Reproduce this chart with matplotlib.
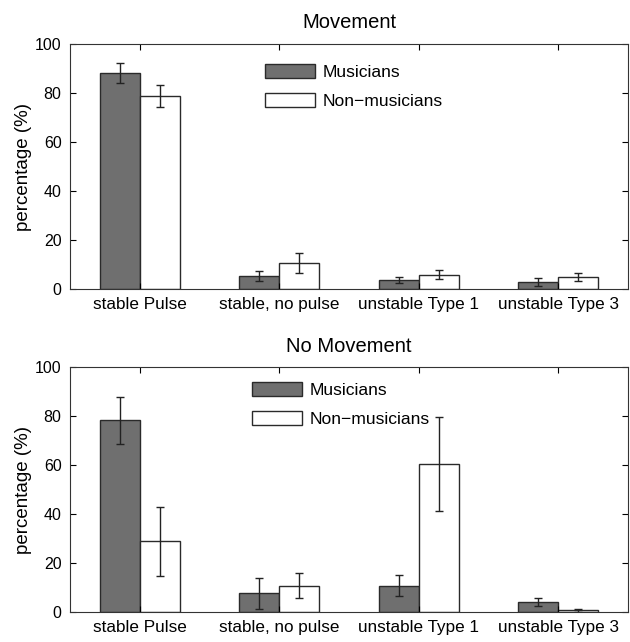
import matplotlib.pyplot as plt
import numpy as np

plt.rcParams.update({
    "font.family": ["Liberation Sans", "DejaVu Sans"],
    "font.size": 12,
    "xtick.direction": "in",
    "ytick.direction": "in",
    "xtick.top": True,
    "ytick.right": True,
})

categories = ["stable Pulse", "stable, no pulse", "unstable Type 1", "unstable Type 3"]
groups = ["Musicians", "Non\u2212musicians"]

# Movement condition
move_mus = [88.3, 5.3, 3.7, 2.9]
move_mus_err = [4.1, 2.1, 1.4, 1.5]
move_non = [78.8, 10.6, 5.9, 4.9]
move_non_err = [4.3, 4.0, 2.0, 1.8]

# No movement condition
nomove_mus = [78.2, 7.6, 10.8, 4.2]
nomove_mus_err = [9.5, 6.3, 4.2, 1.6]
nomove_non = [28.8, 10.8, 60.4, 0.7]
nomove_non_err = [14.0, 5.2, 19.2, 0.6]

x = np.arange(1, len(categories) + 1)
w = 0.287

fig = plt.figure(figsize=(6.3, 6.42), dpi=100)
ax1 = fig.add_axes([0.111, 0.5498, 0.886, 0.3816])
ax2 = fig.add_axes([0.111, 0.0467, 0.886, 0.3816])

panels = [
    (ax1, "Movement", move_mus, move_mus_err, move_non, move_non_err, (0.349, 0.92), 11.5),
    (ax2, "No Movement", nomove_mus, nomove_mus_err, nomove_non, nomove_non_err, (0.326, 0.94), 10.5),
]

for ax, title, mus, mus_err, non, non_err, leg_pos, tpad in panels:
    ax.bar(x - w / 2, mus, w, color="#6f6f6f", edgecolor="#2a2a2a", linewidth=1.0,
           label=groups[0])
    ax.bar(x + w / 2, non, w, color="white", edgecolor="#2a2a2a", linewidth=1.0,
           label=groups[1])
    ax.errorbar(x - w / 2, mus, yerr=mus_err, fmt="none", ecolor="#222222",
                elinewidth=1.0, capsize=3, capthick=1.0)
    ax.errorbar(x + w / 2, non, yerr=non_err, fmt="none", ecolor="#222222",
                elinewidth=1.0, capsize=3, capthick=1.0)
    ax.set_xlim(0.5, 4.5)
    ax.set_ylim(0, 100)
    ax.set_yticks([0, 20, 40, 60, 80, 100])
    ax.set_xticks(x)
    ax.set_xticklabels(categories, fontsize=12.3)
    ax.tick_params(axis="y", labelsize=11.5, pad=6)
    ax.tick_params(axis="x", pad=6)
    ax.tick_params(length=4, width=0.8)
    ax.set_ylabel("percentage (%)", fontsize=13.5, labelpad=2)
    ax.set_title(title, fontsize=14.5, pad=tpad)
    for s in ax.spines.values():
        s.set_linewidth(0.8)
        s.set_color("#333333")
    ax.legend(loc="upper left", bbox_to_anchor=leg_pos, frameon=False, borderpad=0,
              borderaxespad=0, handlelength=2.86, handleheight=0.86,
              handletextpad=0.45, fontsize=12.6, labelspacing=0.75)

fig.savefig("out.png", dpi=100)
